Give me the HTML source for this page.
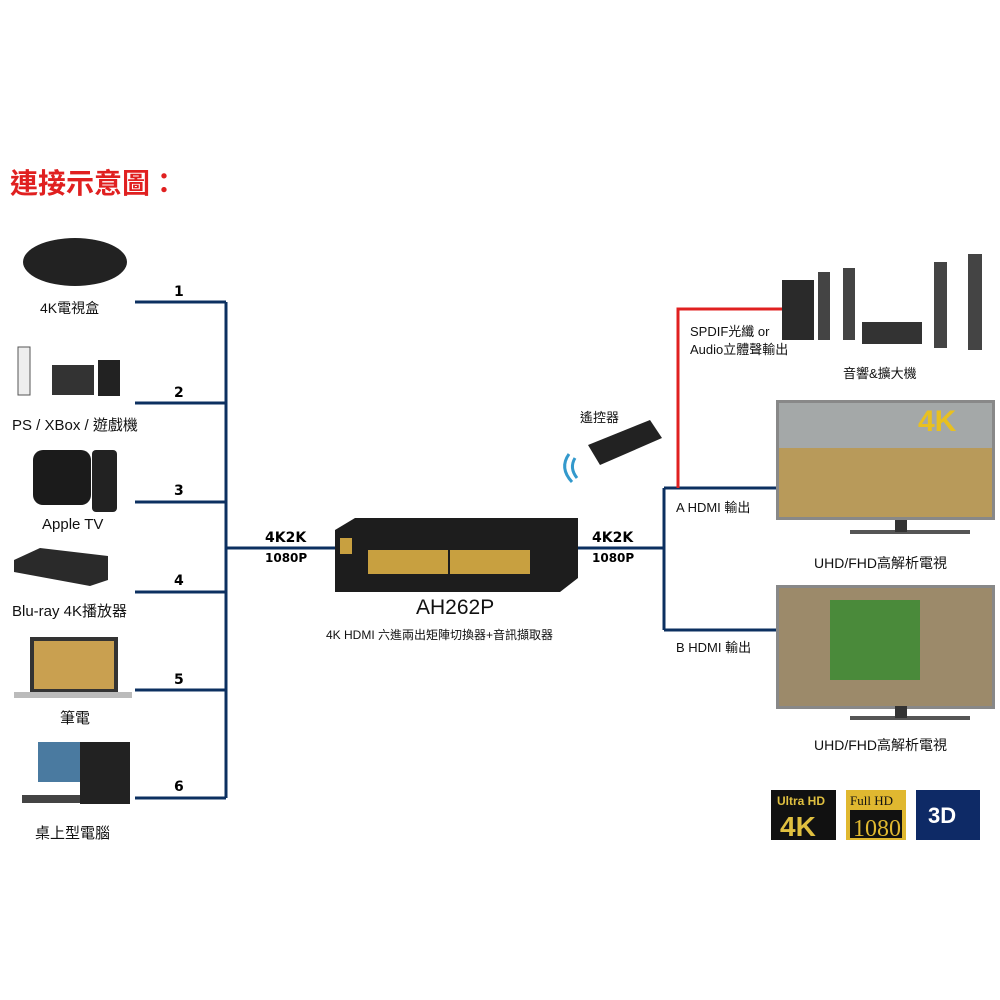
<!DOCTYPE html>
<html><head><meta charset="utf-8"><style>
body{margin:0;width:1000px;height:1000px;background:#fff;position:relative;overflow:hidden;font-family:"Liberation Sans","Noto Sans CJK TC",sans-serif}
.a{position:absolute}
.t{position:absolute;font-size:14px;color:#111;white-space:nowrap}
.n{position:absolute;font-weight:bold;font-size:14px;font-family:"DejaVu Sans",sans-serif}
</style></head><body>
<div class="t" style="left:10px;top:162px;font-size:28px;font-weight:bold;color:#e02020">連接示意圖：</div>

<svg class="a" style="left:0;top:0" width="1000" height="1000">
<g stroke="#0c3060" stroke-width="3" fill="none">
<path d="M135 302H226M135 403H226M135 502H226M135 592H226M135 690H226M135 798H226M226 302V798M226 548H336"/>
<path d="M578 548H664M664 488V630M664 488H776M664 630H776"/>
</g>
<path d="M678 488V309H782" stroke="#e02020" stroke-width="3" fill="none"/>
<!-- device icons left -->
<ellipse cx="75" cy="262" rx="52" ry="24" fill="#222"/>
<rect x="18" y="347" width="12" height="48" fill="#eee" stroke="#555"/>
<rect x="52" y="365" width="42" height="30" fill="#333"/>
<rect x="98" y="360" width="22" height="36" fill="#222"/>
<rect x="33" y="450" width="58" height="55" rx="10" fill="#1b1b1b"/>
<rect x="92" y="450" width="25" height="62" rx="4" fill="#222"/>
<polygon points="14,560 40,548 108,556 108,580 90,586 14,572" fill="#2a2a2a"/>
<rect x="30" y="637" width="88" height="56" fill="#333"/><rect x="34" y="641" width="80" height="48" fill="#c9a050"/>
<rect x="14" y="692" width="118" height="6" fill="#bbb"/>
<rect x="38" y="742" width="44" height="40" fill="#4a7aa0"/><rect x="80" y="742" width="50" height="62" fill="#222"/>
<rect x="22" y="795" width="58" height="8" fill="#444"/>
<!-- switch -->
<polygon points="335,530 355,518 578,518 578,578 560,592 335,592" fill="#1d1d1d"/>
<g fill="#c8a040"><rect x="368" y="550" width="80" height="24"/><rect x="450" y="550" width="80" height="24"/><rect x="340" y="538" width="12" height="16"/></g>
<!-- remote -->
<polygon points="588,445 650,420 662,438 600,465" fill="#222"/>
<path d="M575 458q-6 10 2 20M569 454q-10 14 3 28" stroke="#3399cc" stroke-width="3" fill="none"/>
<!-- speakers -->
<rect x="782" y="280" width="32" height="60" fill="#2a2a2a"/>
<rect x="818" y="272" width="12" height="68" fill="#444"/><rect x="843" y="268" width="12" height="72" fill="#444"/>
<rect x="862" y="322" width="60" height="22" fill="#333"/>
<rect x="934" y="262" width="13" height="86" fill="#444"/><rect x="968" y="254" width="14" height="96" fill="#444"/>
<!-- TVs -->
<rect x="776" y="400" width="219" height="120" fill="#888"/><rect x="779" y="403" width="213" height="114" fill="#b89a5a"/>
<rect x="779" y="403" width="213" height="45" fill="#a4a8a8"/>
<text x="918" y="431" font-size="30" font-weight="bold" fill="#e8c020" font-family="Liberation Sans">4K</text>
<rect x="850" y="530" width="120" height="4" fill="#555"/><rect x="895" y="520" width="12" height="12" fill="#333"/>
<rect x="776" y="585" width="219" height="124" fill="#888"/><rect x="779" y="588" width="213" height="118" fill="#9c8a6a"/>
<rect x="830" y="600" width="90" height="80" fill="#4a8a3a"/>
<rect x="850" y="716" width="120" height="4" fill="#555"/><rect x="895" y="706" width="12" height="12" fill="#333"/>
<!-- badges -->
<rect x="771" y="790" width="65" height="50" fill="#111"/>
<text x="777" y="805" font-size="12" font-weight="bold" fill="#e0c040" font-family="Liberation Sans">Ultra HD</text>
<text x="780" y="836" font-size="28" font-weight="bold" fill="#e0c040" font-family="Liberation Sans">4K</text>
<rect x="846" y="790" width="60" height="50" fill="#e0b830"/>
<text x="850" y="805" font-size="13" fill="#111" font-family="Liberation Serif">Full HD</text>
<rect x="850" y="810" width="52" height="28" fill="#111"/>
<text x="853" y="836" font-size="24" fill="#e0b830" font-family="Liberation Serif">1080</text>
<rect x="916" y="790" width="64" height="50" fill="#0e2a66"/>
<text x="928" y="823" font-size="22" font-weight="bold" fill="#fff" font-family="Liberation Sans">3D</text>
</svg>

<div class="t" style="left:40px;top:298px">4K電視盒</div>
<div class="t" style="left:12px;top:414px;font-size:15px">PS / XBox / 遊戲機</div>
<div class="t" style="left:42px;top:516px;font-size:15px">Apple TV</div>
<div class="t" style="left:12px;top:600px;font-size:15px">Blu-ray 4K播放器</div>
<div class="t" style="left:60px;top:707px;font-size:15px">筆電</div>
<div class="t" style="left:35px;top:822px;font-size:15px">桌上型電腦</div>
<div class="n" style="left:174px;top:284px">1</div>
<div class="n" style="left:174px;top:385px">2</div>
<div class="n" style="left:174px;top:483px">3</div>
<div class="n" style="left:174px;top:573px">4</div>
<div class="n" style="left:174px;top:672px">5</div>
<div class="n" style="left:174px;top:779px">6</div>
<div class="n" style="left:265px;top:530px">4K2K</div>
<div class="n" style="left:265px;top:551px;font-size:12px">1080P</div>
<div class="n" style="left:592px;top:530px">4K2K</div>
<div class="n" style="left:592px;top:551px;font-size:12px">1080P</div>
<div class="t" style="left:416px;top:596px;font-size:21px">AH262P</div>
<div class="t" style="left:326px;top:626px;font-size:12px">4K HDMI 六進兩出矩陣切換器+音訊擷取器</div>
<div class="t" style="left:580px;top:407px;font-size:13px">遙控器</div>
<div class="t" style="left:690px;top:323px;font-size:13px;line-height:18px">SPDIF光纖 or<br>Audio立體聲輸出</div>
<div class="t" style="left:843px;top:363px;font-size:13px">音響&amp;擴大機</div>
<div class="t" style="left:676px;top:497px;font-size:13px">A HDMI 輸出</div>
<div class="t" style="left:676px;top:637px;font-size:13px">B HDMI 輸出</div>
<div class="t" style="left:814px;top:553px;font-size:14px">UHD/FHD高解析電視</div>
<div class="t" style="left:814px;top:735px;font-size:14px">UHD/FHD高解析電視</div>
</body></html>
